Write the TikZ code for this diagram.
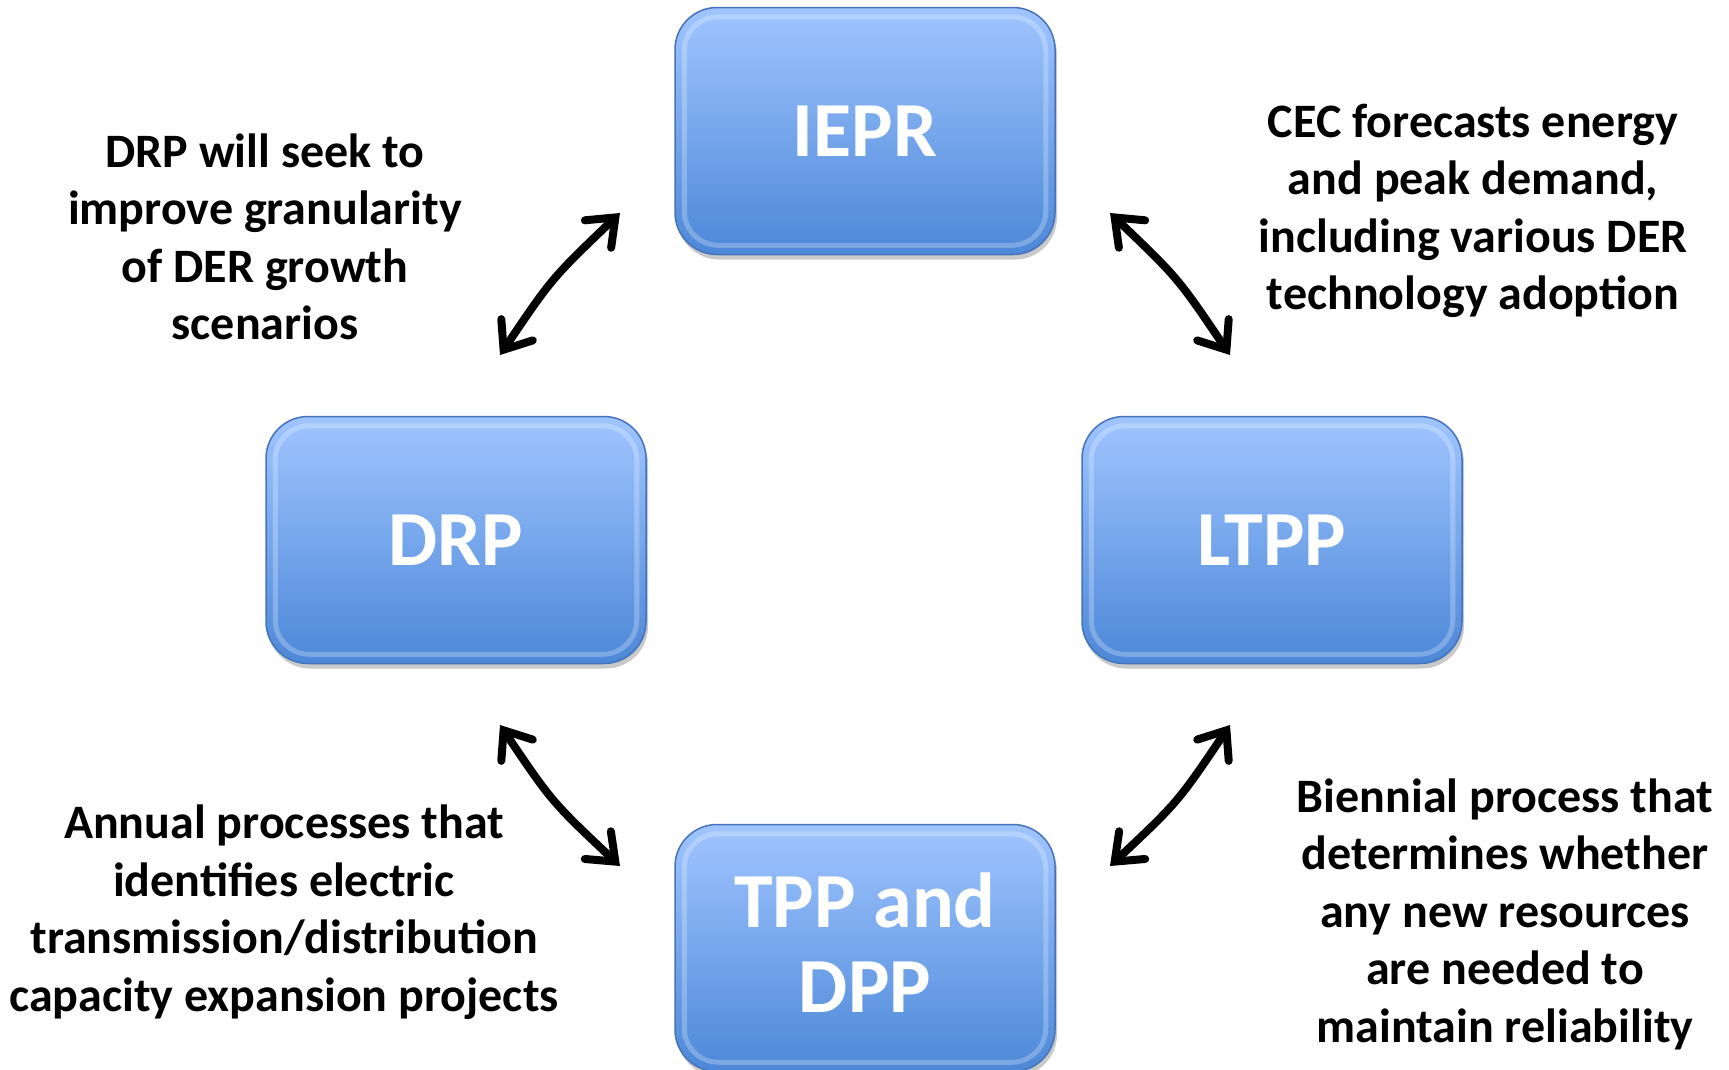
\documentclass[tikz,border=0pt]{standalone}
\usepackage{fontspec}
\setmainfont{Carlito}
\usetikzlibrary{arrows.meta,shadows}
\definecolor{boxtop}{RGB}{160,197,255}
\definecolor{boxbot}{RGB}{76,136,216}
\definecolor{boxline}{RGB}{70,115,185}
\tikzset{
  procbox/.style={rounded corners=42pt, minimum width=380pt, minimum height=247pt,
    top color=boxtop, bottom color=boxbot, draw=boxline, line width=1.5pt,
    drop shadow={shadow xshift=2pt, shadow yshift=-5pt, opacity=0.35, fill=black!60},
    text=white, font=\fontsize{78}{85}\selectfont\bfseries, align=center, inner sep=0pt},
  bevel/.style={rounded corners=34pt, draw=white, draw opacity=0.25, line width=5pt},
  note/.style={font=\fontsize{48}{57.5}\selectfont\bfseries, align=center, inner sep=0pt, text=black},
  dblarrow/.style={line width=8pt, line cap=round,
    {Straight Barb[length=24pt,width=38pt,line cap=round]}-{Straight Barb[length=24pt,width=38pt,line cap=round]}}
}
\begin{document}
\begin{tikzpicture}[x=1pt,y=-1pt]
\useasboundingbox (0,0) rectangle (1729,1069);
\clip (0,0) rectangle (1729,1069);
\fill[white] (0,0) rectangle (1729,1069);
% boxes
\node[procbox] (iepr) at (865,131) {IEPR};
\node[procbox] (drp) at (456,540) {DRP};
\node[procbox] (ltpp) at (1272,540) {LTPP};
\node[procbox] (tpp) at (865,948) {};
\node[text=white, font=\fontsize{78}{85}\selectfont\bfseries, align=center, inner sep=0pt] (tpptext) at (865,943) {TPP and\\DPP};
\foreach \b in {iepr,drp,ltpp,tpp}{
  \draw[bevel] ([shift={(10,10)}]\b.north west) rectangle ([shift={(-10,-10)}]\b.south east);
}
% notes
\node[note] (n1) at (265,237) {DRP will seek to\\improve granularity\\of DER growth\\scenarios};
\node[note] (n2) at (1473,211) {CEC forecasts energy\\and peak demand,\\including various DER\\technology adoption};
\node[note] (n3) at (284,912) {Annual processes that\\identifies electric\\transmission/distribution\\capacity expansion projects};
\node[note] (n4) at (1505,914) {Biennial process that\\determines whether\\any new resources\\are needed to\\maintain reliability};
% arrow end points
\coordinate (a1s) at (500,355);
\coordinate (a1e) at (620,213);
\coordinate (a2s) at (1230,355);
\coordinate (a2e) at (1110,213);
\coordinate (a3s) at (500,725);
\coordinate (a3e) at (620,866);
\coordinate (a4s) at (1230,725);
\coordinate (a4e) at (1110,866);
\draw[dblarrow] (a1s) .. controls (552,278) .. (a1e);
\draw[dblarrow] (a2s) .. controls (1178,278) .. (a2e);
\draw[dblarrow] (a3s) .. controls (552,802) .. (a3e);
\draw[dblarrow] (a4s) .. controls (1178,802) .. (a4e);
\end{tikzpicture}
\end{document}
